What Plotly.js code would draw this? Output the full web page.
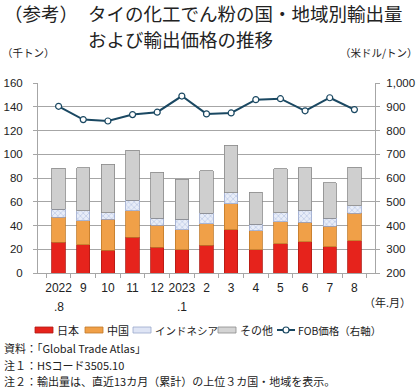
<!DOCTYPE html>
<html><head><meta charset="utf-8">
<script src="https://cdn.plot.ly/plotly-3.0.1.min.js"></script>
<style>html,body{margin:0;padding:0;background:#fff}#c{width:420px;height:390px}</style>
</head><body><div id="c"></div>
<script>
const months = ['2022年8月','2022年9月','2022年10月','2022年11月','2022年12月','2023年1月','2023年2月','2023年3月','2023年4月','2023年5月','2023年6月','2023年7月','2023年8月'];
const tickLine1 = ['2022','9','10','11','12','2023','2','3','4','5','6','7','8'];
const tickLine2 = ['.8','','','','','.1','','','','','','',''];
const japan = [25.7,24.0,19.3,29.9,21.8,19.6,23.2,36.4,19.6,24.6,26.3,22.1,27.1];
const china = [21.3,20.2,26.0,22.7,18.5,16.8,18.2,21.8,15.9,18.5,16.5,17.1,23.2];
const indonesia = [6.7,8.4,5.6,8.7,5.9,8.9,8.9,9.5,5.6,7.8,10.1,7.0,6.5];
const others = [34.4,36.1,40.6,41.9,38.6,33.6,35.6,40.0,26.9,36.7,35.8,29.9,32.2];
const fob = [902,846,840,867,877,945,870,874,930,934,883,938,888];
const seriesNames = ['日本','中国','インドネシア','その他','FOB価格（右軸）'];
const leftTicks = [0,20,40,60,80,100,120,140,160];
const rightTicks = [200,300,400,500,600,700,800,900,1000];

const FONT = 'Liberation Sans, Arial, Noto Sans CJK JP, sans-serif';
const JFONT = 'Noto Sans CJK JP, Liberation Sans, sans-serif';
const L=38, R=375, T=83, B=273;
const X = px => (px-L)/(R-L);
const Y = py => (B-py)/(B-T);

const traces = [
  {type:'bar', name:seriesNames[0], x:months, y:japan, marker:{color:'#e6231c', line:{color:'#b01a14', width:0.8}}},
  {type:'bar', name:seriesNames[1], x:months, y:china, marker:{color:'#f0a048', line:{color:'#c07a2a', width:0.8}}},
  {type:'bar', name:seriesNames[2], x:months, y:indonesia, marker:{color:'#e4e9f6', line:{color:'#9aa8cc', width:0.8}, pattern:{shape:'x', fgcolor:'#9fb1dc', bgcolor:'#e8edf8', size:4, solidity:0.2}}},
  {type:'bar', name:seriesNames[3], x:months, y:others, marker:{color:'#cfcfcf', line:{color:'#8a8a8a', width:0.8}}},
  {type:'scatter', mode:'lines+markers', name:seriesNames[4], x:months, y:fob, yaxis:'y2',
   line:{color:'#1a4862', width:2}, marker:{size:6, color:'#fff', line:{color:'#1a4862', width:1.2}}}
];

const ann = [];
function txt(text, x, y, size, xanchor, extra){
  ann.push(Object.assign({text:text, xref:'paper', yref:'paper', x:X(x), y:Y(y), xanchor:xanchor||'left', yanchor:'middle', showarrow:false, font:{family:JFONT, size:size, color:'#222'}}, extra||{}));
}
txt('（参考）', 2, 13, 18.5);
txt('タイの化工でん粉の国・地域別輸出量', 86, 13, 18.5);
txt('および輸出価格の推移', 86, 38.5, 18.5);
txt('（千トン）', 0, 53, 10.5);
txt('（米ドル/トン）', 420, 53, 10.5, 'right');
txt('（年.月）', 413, 302, 11, 'right');
txt('資料：「Global Trade Atlas」', 2, 348, 11);
txt('注１：HSコード3505.10', 2, 365, 11);
txt('注２：輸出量は、直近13カ月（累計）の上位３カ国・地域を表示。', 2, 381, 11);
// second line of the year-start tick labels
months.forEach((m,i)=>{ if(tickLine2[i]) ann.push({text:tickLine2[i], xref:'x', yref:'paper', x:i, y:Y(307), xanchor:'center', yanchor:'middle', showarrow:false, font:{family:FONT, size:12, color:'#222'}}); });

// legend (custom)
const shapes = [];
const legY = 330;
const sw = [[35,'#e6231c','#b01a14'],[85,'#f0a048','#c07a2a'],[133,'#dfe5f5','#9aa8cc'],[218,'#d4d4d4','#8a8a8a']];
sw.forEach(s=>shapes.push({type:'rect', xref:'paper', yref:'paper', x0:X(s[0]), x1:X(s[0]+18), y0:Y(legY+3), y1:Y(legY-3), fillcolor:s[1], line:{color:s[2], width:0.8}}));
shapes.push({type:'line', xref:'paper', yref:'paper', x0:X(277), x1:X(295), y0:Y(legY), y1:Y(legY), line:{color:'#1a4862', width:2}});
shapes.push({type:'circle', xref:'paper', yref:'paper', x0:X(283), x1:X(289), y0:Y(legY+3), y1:Y(legY-3), fillcolor:'#fff', line:{color:'#1a4862', width:1.2}});
txt(seriesNames[0], 55, legY, 11);
txt(seriesNames[1], 105, legY, 11);
txt(seriesNames[2], 153, legY, 10.5);
txt(seriesNames[3], 238, legY, 11);
txt('FOB価格（右軸）', 296, legY, 10.5);

const layout = {
  width:420, height:390, margin:{l:L, r:420-R, t:T, b:390-B}, paper_bgcolor:'#fff', plot_bgcolor:'#fff',
  barmode:'stack', bargap:0.46, showlegend:false,
  font:{family:FONT, size:11.5, color:'#222'},
  xaxis:{type:'category', tickmode:'array', tickvals:months, ticktext:tickLine1, tickangle:0, automargin:false, showline:true, linecolor:'#a6a6a6', linewidth:1, ticks:'outside', tickson:'boundaries', ticklen:4, tickcolor:'#a6a6a6', tickfont:{size:12, family:FONT}, ticklabelstandoff:4, showgrid:false, fixedrange:true},
  yaxis:{range:[0,160], tickvals:leftTicks, automargin:false, showline:true, linecolor:'#a6a6a6', ticks:'outside', ticklen:4, tickcolor:'#a6a6a6', gridcolor:'#a6a6a6', gridwidth:1, zeroline:false, tickfont:{size:11.5}, ticklabelstandoff:8},
  yaxis2:{range:[200,1000], tickvals:rightTicks, tickformat:',d', automargin:false, overlaying:'y', side:'right', showline:true, linecolor:'#a6a6a6', ticks:'outside', ticklen:4, tickcolor:'#a6a6a6', showgrid:false, zeroline:false, tickfont:{size:11.5}, ticklabelstandoff:4},
  annotations:ann, shapes:shapes
};
Plotly.newPlot('c', traces, layout, {staticPlot:true, displayModeBar:false});
</script></body></html>
